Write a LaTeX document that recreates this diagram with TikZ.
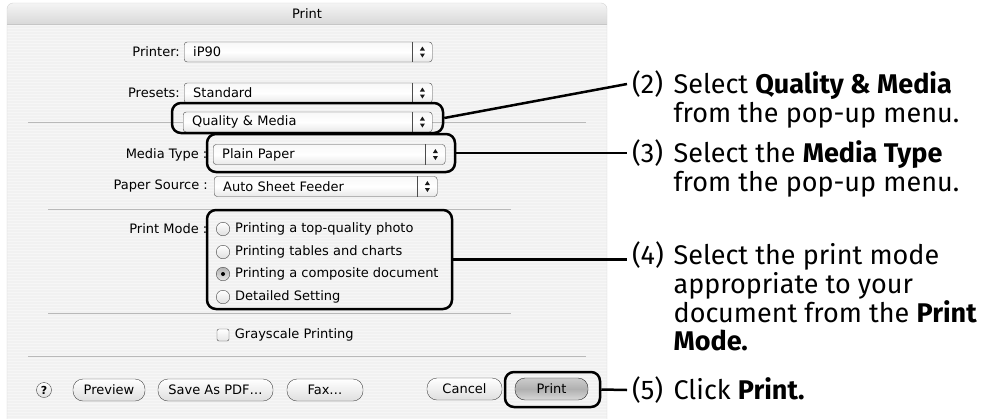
\documentclass[tikz,border=0pt]{standalone}
\usepackage{fontspec}
\setmainfont{Fira Sans}
\newfontfamily\uifont{DejaVu Sans}
\usetikzlibrary{positioning}

\begin{document}
\begin{tikzpicture}[x=1pt, y=-1pt,
    ui/.style={font=\uifont\fontsize{13}{15}\selectfont, inner sep=0pt},
    lbl/.style={ui, anchor=east},
    popup/.style={ui, draw=gray!60!black, rounded corners=3pt, top color=gray!6, bottom color=gray!18, middle color=white, minimum height=20pt, inner xsep=9pt, anchor=west, align=left},
    radio/.style={circle, draw=gray!60!black, top color=white, bottom color=gray!25, minimum size=13.5pt, inner sep=0pt},
    radioon/.style={radio, top color=gray!60, bottom color=gray!20},
    chk/.style={draw=gray!60!black, rounded corners=2pt, top color=white, bottom color=gray!20, minimum size=12pt, inner sep=0pt},
    opt/.style={ui, anchor=west},
    btn/.style={ui, draw=gray!55!black, rounded corners=10pt, top color=white, bottom color=gray!25, minimum height=22pt},
    defbtn/.style={btn, draw=gray!30!black, top color=gray!40, bottom color=gray!30, middle color=gray!62},
    hl/.style={draw=black, line width=2.5pt, rounded corners=9pt},
    leader/.style={line width=2.5pt},
    num/.style={font=\fontsize{27}{28.8}\selectfont, text width=36pt, inner xsep=5pt, inner ysep=0pt, align=left, anchor=west},
    steptext/.style={font=\fontsize{27}{28.8}\selectfont, inner sep=0pt, align=left, anchor=north west}
  ]
  \useasboundingbox (0,0) rectangle (981,418);

  % dialog window
  \begin{scope}
    \clip[rounded corners=6pt] (7,3) rectangle (607,440);
    \fill[gray!11] (7,24) rectangle (607,440);
    \foreach \y in {25,28,...,418}
      \draw[white, opacity=.4, line width=1pt] (7,\y) -- (607,\y);
    \shade[top color=gray!8, bottom color=gray!30] (7,3) rectangle (607,24);
  \end{scope}
  \draw[gray!45] (7,24) -- (607,24);
  \draw[gray!35, rounded corners=6pt] (607,440) -- (607,3) -- (7,3) -- (7,440);
  \node[ui] (title) at (307,13.5) {Print};

  % separators
  \draw[gray!55, line width=.8pt] (28,122) -- (586,122);
  \draw[gray!55, line width=.8pt] (48,209) -- (511,209);
  \draw[gray!55, line width=.8pt] (48,313) -- (511,313);
  \draw[gray!55, line width=.8pt] (28,356) -- (586,356);

  % labels
  \node[lbl] (lpr) at (180,52) {Printer:};
  \node[lbl] (lps) at (180,93) {Presets:};
  \node[lbl] (lmt) at (207.5,154.5) {Media Type :};
  \node[lbl] (lsrc) at (208,186.5) {Paper Source :};
  \node[lbl] (lpm) at (207.5,229) {Print Mode :};

  % pop-up menus
  \foreach \nm/\x/\y/\w/\txt in {pr/184/52/230/iP90, ps/184/93/230/Standard,
      qm/183/122/231/Quality \& Media, mt/213/154.5/214/Plain Paper,
      src/214/186.5/205/Auto Sheet Feeder}{
    \node[popup, text width=\w pt] (\nm) at (\x,\y) {\txt};
    \draw[gray!60!black] ([xshift=-20pt]\nm.north east) -- ([xshift=-20pt]\nm.south east);
    \fill[gray!20!black] ([xshift=-12.5pt,yshift=1.5pt]\nm.east) -- ([xshift=-7.5pt,yshift=1.5pt]\nm.east) -- ([xshift=-10pt,yshift=5.5pt]\nm.east) -- cycle;
    \fill[gray!20!black] ([xshift=-12.5pt,yshift=-1.5pt]\nm.east) -- ([xshift=-7.5pt,yshift=-1.5pt]\nm.east) -- ([xshift=-10pt,yshift=-5.5pt]\nm.east) -- cycle;
  }

  % print mode
  \foreach \i/\y/\st/\txt in {1/229/radio/Printing a top-quality photo,
      2/252/radio/Printing tables and charts,
      3/274/radioon/Printing a composite document,
      4/297/radio/Detailed Setting}{
    \node[\st] (r\i) at (223,\y) {};
    \node[opt, right=5pt of r\i] (o\i) {\txt};
  }
  \fill[black] (r3) circle (2pt);

  \node[chk] (gs) at (223,335) {};
  \node[opt, right=5.5pt of gs] (gst) {Grayscale Printing};

  % buttons
  \node[btn, circle, minimum size=15pt, font=\uifont\bfseries\fontsize{11}{13}\selectfont] (help) at (44,390) {?};
  \node[btn, minimum width=72pt] (prev) at (109,390) {Preview};
  \node[btn, minimum width=115pt] (pdf) at (215.5,390) {Save As PDF…};
  \node[btn, minimum width=76pt] (fax) at (325,390) {Fax…};
  \node[btn, minimum width=75pt] (cancel) at (464.5,389) {Cancel};
  \node[defbtn, minimum width=73pt] (print) at (551.5,389) {Print};

  % highlights
  \node[hl, minimum width=271pt, minimum height=30pt] (hl2) at (307.5,118) {};
  \node[hl, minimum width=248pt, minimum height=38pt] (hl3) at (331,153) {};
  \node[hl, minimum width=245pt, minimum height=99pt] (hl4) at (329.5,259.5) {};
  \node[hl, minimum width=95pt, minimum height=35pt] (hl5) at (552.5,389.5) {};

  % steps
  \node[num] (n2) at (627,84) {(2)};
  \node[steptext] (t2) at (n2.north east) {\vphantom{(}Select \textbf{Quality \& Media}\\from the pop-up menu.};
  \node[num] (n3) at (627,153) {(3)};
  \node[steptext] (t3) at (n3.north east) {\vphantom{(}Select the \textbf{Media Type}\\from the pop-up menu.};
  \node[num] (n4) at (627,255) {(4)};
  \node[steptext] (t4) at (n4.north east) {\vphantom{(}Select the print mode\\appropriate to your\\document from the \textbf{Print}\\\textbf{Mode.}};
  \node[num] (n5) at (627,390) {(5)};
  \node[steptext] (t5) at (n5.north east) {\vphantom{(}Click \textbf{Print.}};

  \draw[leader] (hl2.east) -- (n2.west);
  \draw[leader] (hl3.east) -- (n3.west);
  \draw[leader] (hl4.east) -- (hl4.east -| n4.west);
  \draw[leader] (hl5.east) -- (n5.west);
\end{tikzpicture}
\end{document}
